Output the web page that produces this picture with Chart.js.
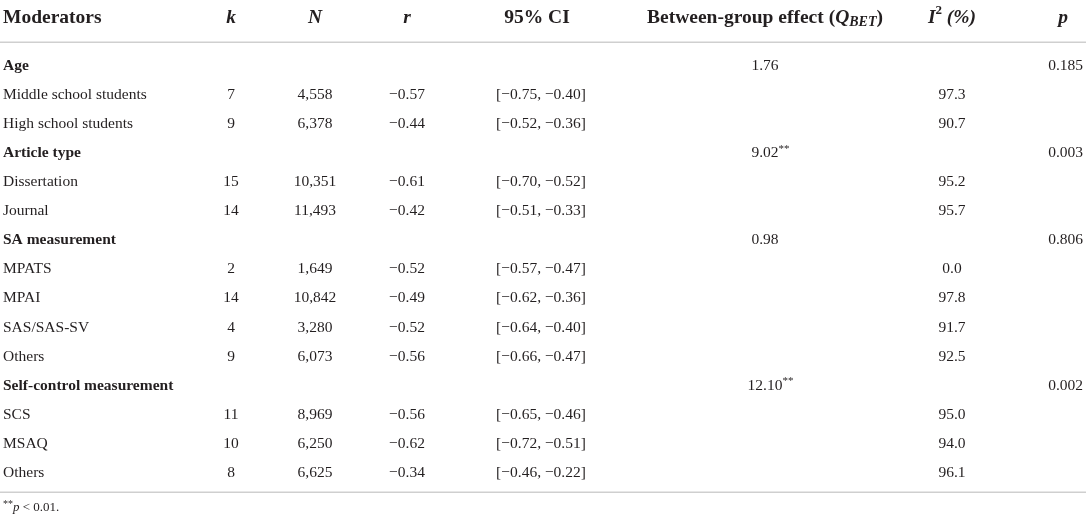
<!DOCTYPE html>
<html>
<head>
<meta charset="utf-8">
<script src="https://cdn.jsdelivr.net/npm/chart.js@4.4.1/dist/chart.umd.min.js"></script>
<style>
    html, body { margin: 0; padding: 0; background: #fff; }
    #wrap { width: 1089px; height: 520px; position: relative; }
</style>
</head>
<body>
<div id="wrap"><canvas id="table-chart"></canvas></div>
<script>
// ===== Data =====
const rowLabels = [
    'Age', 'Middle school students', 'High school students',
    'Article type', 'Dissertation', 'Journal',
    'SA measurement', 'MPATS', 'MPAI', 'SAS/SAS-SV', 'Others',
    'Self-control measurement', 'SCS', 'MSAQ', 'Others'
];
const groupRows = [true, false, false, true, false, false, true, false, false, false, false, true, false, false, false];
const kValues = [null, 7, 9, null, 15, 14, null, 2, 14, 4, 9, null, 11, 10, 8];
const nValues = [null, 4558, 6378, null, 10351, 11493, null, 1649, 10842, 3280, 6073, null, 8969, 6250, 6625];
const rValues = [null, -0.57, -0.44, null, -0.61, -0.42, null, -0.52, -0.49, -0.52, -0.56, null, -0.56, -0.62, -0.34];
const ciLower = [null, -0.75, -0.52, null, -0.70, -0.51, null, -0.57, -0.62, -0.64, -0.66, null, -0.65, -0.72, -0.46];
const ciUpper = [null, -0.40, -0.36, null, -0.52, -0.33, null, -0.47, -0.36, -0.40, -0.47, null, -0.46, -0.51, -0.22];
const qBetValues = [1.76, null, null, 9.02, null, null, 0.98, null, null, null, null, 12.10, null, null, null];
const qBetStars = ['', '', '', '**', '', '', '', '', '', '', '', '**', '', '', ''];
const i2Values = [null, 97.3, 90.7, null, 95.2, 95.7, null, 0.0, 97.8, 91.7, 92.5, null, 95.0, 94.0, 96.1];
const pValues = [0.185, null, null, 0.003, null, null, 0.806, null, null, null, null, 0.002, null, null, null];

// ===== Layout (pixel units, scales map 1:1 onto the canvas) =====
const W = 1089, H = 520;
const FONT = "'Liberation Serif', 'Times New Roman', serif";
const INK = '#231f20';
const RULE = '#cfcfcf';
const headerY = 18;
const firstRowY = 66;
const rowStep = 29.05;
const topRuleY = 42;
const bottomRuleY = 492;
const footY = 508;
const colX = { label: 3, k: 231, n: 315, r: 407, ci: 541, q: 765, i2: 952, p: 1083 };
const headerX = { ...colX, ci: 537, p: 1063 };

const BODY = `15.5px ${FONT}`;
const BODY_B = `bold 15.5px ${FONT}`;
const HEAD = `bold 19.5px ${FONT}`;
const HEAD_I = `italic bold 19.5px ${FONT}`;

const minus = v => v.toFixed(2).replace('-', '\u2212');
const rowY = i => firstRowY + i * rowStep;

// one dataset per column; each point carries its own text runs
function column(key, align, cellFn) {
    const points = [];
    const runs = [];
    rowLabels.forEach((_, i) => {
        const cell = cellFn(i);
        if (!cell) return;
        points.push({ x: colX[key], y: rowY(i) });
        runs.push(cell);
    });
    return { label: key, data: points, cellRuns: runs, align, pointRadius: 0, pointHitRadius: 0 };
}

const headerRuns = {
    label: [{ t: 'Moderators', f: HEAD }],
    k: [{ t: 'k', f: HEAD_I }],
    n: [{ t: 'N', f: HEAD_I }],
    r: [{ t: 'r', f: HEAD_I }],
    ci: [{ t: '95% CI', f: HEAD }],
    q: [{ t: 'Between-group effect (', f: HEAD }, { t: 'Q', f: HEAD_I },
        { t: 'BET', f: `italic bold 14px ${FONT}`, dy: 4 }, { t: ')', f: HEAD }],
    i2: [{ t: 'I', f: HEAD_I }, { t: '2', f: `bold 13px ${FONT}`, dy: -7 }, { t: ' (%)', f: HEAD_I }],
    p: [{ t: 'p', f: HEAD_I }]
};
const headerAlign = { label: 'left', k: 'center', n: 'center', r: 'center', ci: 'center', q: 'center', i2: 'center', p: 'center' };

const headerDataset = {
    label: 'header',
    data: Object.keys(headerRuns).map(k => ({ x: headerX[k], y: headerY })),
    cellRuns: Object.keys(headerRuns).map(k => headerRuns[k]),
    cellAligns: Object.keys(headerRuns).map(k => headerAlign[k]),
    pointRadius: 0
};

const datasets = [
    headerDataset,
    column('label', 'left', i => [{ t: rowLabels[i], f: groupRows[i] ? BODY_B : BODY }]),
    column('k', 'center', i => kValues[i] === null ? null : [{ t: String(kValues[i]), f: BODY }]),
    column('n', 'center', i => nValues[i] === null ? null : [{ t: nValues[i].toLocaleString('en-US'), f: BODY }]),
    column('r', 'center', i => rValues[i] === null ? null : [{ t: minus(rValues[i]), f: BODY }]),
    column('ci', 'center', i => ciLower[i] === null ? null : [{ t: `[${minus(ciLower[i])}, ${minus(ciUpper[i])}]`, f: BODY }]),
    column('q', 'anchor', i => qBetValues[i] === null ? null : [
        { t: qBetValues[i].toFixed(2), f: BODY },
        { t: qBetStars[i], f: `11px ${FONT}`, dy: -4 }
    ]),
    column('i2', 'center', i => i2Values[i] === null ? null : [{ t: i2Values[i].toFixed(1), f: BODY }]),
    column('p', 'right', i => pValues[i] === null ? null : [{ t: pValues[i].toFixed(3), f: BODY }]),
    {
        label: 'footnote',
        data: [{ x: colX.label, y: footY }],
        cellRuns: [[{ t: '**', f: `10px ${FONT}`, dy: -4 }, { t: 'p', f: `italic 13px ${FONT}` },
                    { t: ' < 0.01.', f: `13px ${FONT}` }]],
        align: 'left',
        pointRadius: 0
    }
];

// ===== Drawing helpers =====
function drawRuns(ctx, runs, x, y, align) {
    const widths = runs.map(r => { ctx.font = r.f; return ctx.measureText(r.t).width; });
    const total = widths.reduce((a, b) => a + b, 0);
    let start = x;
    if (align === 'center') start = x - total / 2;
    else if (align === 'right') start = x - total;
    else if (align === 'anchor') start = x - widths[0] / 2; // centre the number, let stars hang
    runs.forEach((r, j) => {
        ctx.font = r.f;
        ctx.fillText(r.t, start, y + (r.dy || 0));
        start += widths[j];
    });
}

const tablePlugin = {
    id: 'tableCells',
    afterDatasetsDraw(chart) {
        const { ctx, scales: { x, y } } = chart;
        ctx.save();
        ctx.strokeStyle = RULE;
        ctx.lineWidth = 1.5;
        [topRuleY, bottomRuleY].forEach(v => {
            const py = Math.round(y.getPixelForValue(v)) + 0.25;
            ctx.beginPath();
            ctx.moveTo(x.getPixelForValue(0), py);
            ctx.lineTo(x.getPixelForValue(W - 3), py);
            ctx.stroke();
        });

        ctx.fillStyle = INK;
        ctx.textBaseline = 'middle';
        chart.data.datasets.forEach((ds, d) => {
            const meta = chart.getDatasetMeta(d);
            meta.data.forEach((el, j) => {
                const align = ds.cellAligns ? ds.cellAligns[j] : ds.align;
                drawRuns(ctx, ds.cellRuns[j], el.x, el.y, align);
            });
        });
        ctx.restore();
    }
};

new Chart(document.getElementById('table-chart'), {
    type: 'scatter',
    data: { datasets },
    options: {
        responsive: true,
        maintainAspectRatio: false,
        animation: false,
        events: [],
        layout: { padding: 0 },
        plugins: { legend: { display: false }, tooltip: { enabled: false } },
        scales: {
            x: { type: 'linear', min: 0, max: W, display: false },
            y: { type: 'linear', min: 0, max: H, reverse: true, display: false }
        }
    },
    plugins: [tablePlugin]
});
</script>
</body>
</html>
